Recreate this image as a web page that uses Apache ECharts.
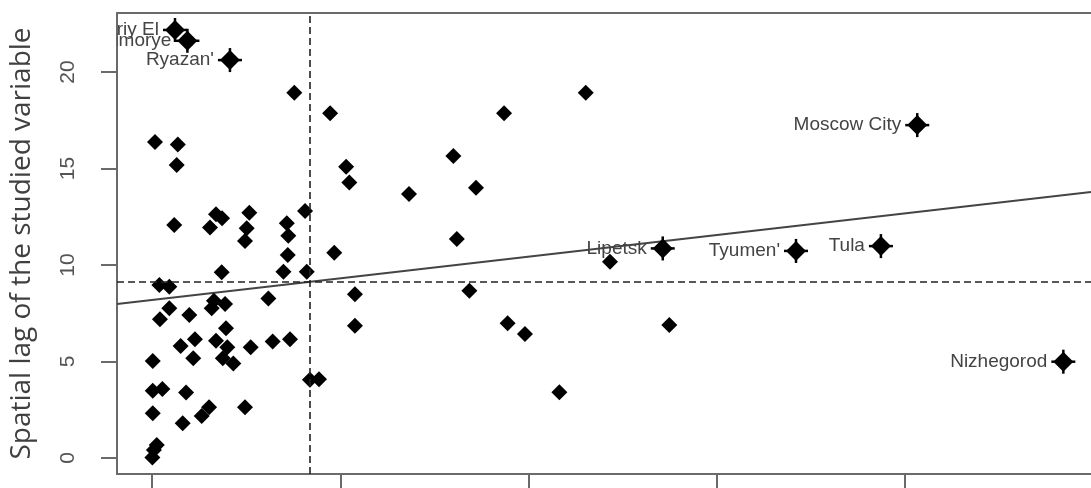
<!DOCTYPE html>
<html>
<head>
<meta charset="utf-8">
<script src="https://cdn.jsdelivr.net/npm/echarts@6/dist/echarts.min.js"></script>
<style>
html,body{margin:0;padding:0;background:#fff;}
#chart{width:1091px;height:488px;}
</style>
</head>
<body>
<div id="chart"></div>
<script>
// ---- data ----
const pointX = [0.16,1.37,1.31,1.18,3.08,3.40,3.72,5.17,5.03,4.94,7.16,7.24,7.21,6.98,8.22,8.13,3.70,0.39,0.92,6.18,
  3.29,3.88,3.17,0.92,0.42,1.98,3.93,1.52,2.28,3.40,4.00,2.19,3.76,4.32,5.24,6.41,7.33,0.04,0.04,0.55,
  1.81,0.04,1.63,2.64,3.03,4.94,0.25,0.10,0.02,8.39,8.87,7.56,9.46,10.31,10.48,13.65,16.01,16.19,9.68,10.78,
  10.78,18.70,23.04,17.21,16.86,18.89,19.81,21.64,24.33,27.48];
const pointY = [16.37,16.25,15.18,12.07,11.95,12.63,12.42,12.71,11.90,11.24,12.16,11.52,10.52,9.65,9.65,12.80,9.62,8.96,8.88,8.27,
  8.15,7.98,7.76,7.76,7.19,7.41,6.72,5.80,6.15,6.08,5.74,5.17,5.17,4.90,5.74,6.03,6.15,5.03,3.49,3.58,
  3.39,2.32,1.80,2.18,2.63,2.63,0.67,0.42,0.02,4.05,4.08,18.93,17.86,15.09,14.28,13.68,15.65,11.35,10.64,8.48,
  6.85,17.86,18.93,14.01,8.67,6.98,6.42,3.40,10.17,6.89];

const labelNames = ["Mariy El","Primorye","Ryazan'","Lipetsk","Tyumen'","Tula","Moscow City","Nizhegorod"];
const labelX = [1.22,1.88,4.14,27.13,34.21,38.72,40.65,48.41];
const labelY = [22.18,21.62,20.62,10.86,10.73,10.98,17.25,4.99];

const meanX = 8.39;
const meanY = 9.12;
const fitIntercept = 8.19;
const fitSlope = 0.1121;

const yTicks = [0,5,10,15,20];
const xTicks = [0,10,20,30,40];
const yTitle = "Spatial lag of the studied variable";

const xMin = -1.86, xMax = 49.88, yMin = -0.83, yMax = 23.06;

// ---- chart ----
const chart = echarts.init(document.getElementById('chart'), null, {renderer:'canvas'});
const pts = pointX.map((x,i)=>[x, pointY[i]]);
const lbl = labelX.map((x,i)=>[x, labelY[i]]);
const fitLine = [[xMin, fitIntercept + fitSlope*xMin],[xMax, fitIntercept + fitSlope*xMax]];

const axisGray = '#6a6a6a';
chart.setOption({
  animation:false,
  backgroundColor:'#ffffff',
  grid:{left:117, top:13, right:0, height:461, show:false, containLabel:false},
  xAxis:[{
    type:'value', min:xMin, max:xMax, position:'bottom',
    axisLine:{show:true, onZero:false, lineStyle:{color:axisGray, width:2}},
    axisTick:{show:true, length:16, customValues:xTicks, lineStyle:{color:axisGray, width:2}},
    axisLabel:{show:false, customValues:xTicks},
    splitLine:{show:false}
  },{
    type:'value', min:xMin, max:xMax, position:'top',
    axisLine:{show:true, onZero:false, lineStyle:{color:axisGray, width:2}},
    axisTick:{show:false}, axisLabel:{show:false}, splitLine:{show:false}
  }],
  yAxis:{
    type:'value', min:yMin, max:yMax,
    name:yTitle, nameLocation:'middle', nameRotate:90, nameGap:81,
    nameTextStyle:{fontFamily:'Open Sans', fontSize:28, color:'#404040'},
    axisLine:{show:true, onZero:false, lineStyle:{color:axisGray, width:2}},
    axisTick:{show:true, length:16, customValues:yTicks, lineStyle:{color:axisGray, width:2}},
    axisLabel:{show:true, customValues:yTicks, rotate:90, margin:38, fontFamily:'Liberation Sans', fontSize:21, color:'#555'},
    splitLine:{show:false}
  },
  series:[
    {
      type:'scatter', data:pts, symbol:'diamond', symbolSize:[16,16],
      itemStyle:{color:'#000', opacity:1}, silent:true, z:3,
      markLine:{
        symbol:'none', silent:true, animation:false,
        label:{show:false},
        lineStyle:{type:[7,4], color:'#222', width:1.6, opacity:1},
        data:[{xAxis:meanX},{yAxis:meanY}]
      }
    },
    {
      type:'line', data:fitLine, symbol:'none', silent:true, z:2,
      lineStyle:{color:'#444', width:2}
    },
    {
      type:'custom', clip:true, data:lbl, z:4, silent:true,
      renderItem:function(params, api){
        const p = api.coord([api.value(0), api.value(1)]);
        const name = labelNames[params.dataIndex];
        return {type:'group', children:[
          {type:'polygon', shape:{points:[[p[0],p[1]-10],[p[0]+10,p[1]],[p[0],p[1]+10],[p[0]-10,p[1]]]}, style:{fill:'#000'}},
          {type:'line', shape:{x1:p[0]-12,y1:p[1],x2:p[0]+12,y2:p[1]}, style:{stroke:'#000', lineWidth:2.5}},
          {type:'line', shape:{x1:p[0],y1:p[1]-12,x2:p[0],y2:p[1]+12}, style:{stroke:'#000', lineWidth:2.5}},
          {type:'text', x:p[0]-16, y:p[1], style:{text:name, align:'right', verticalAlign:'middle', fill:'#444', font:'19px "Liberation Sans"'}}
        ]};
      }
    }
  ]
});
</script>
</body>
</html>
